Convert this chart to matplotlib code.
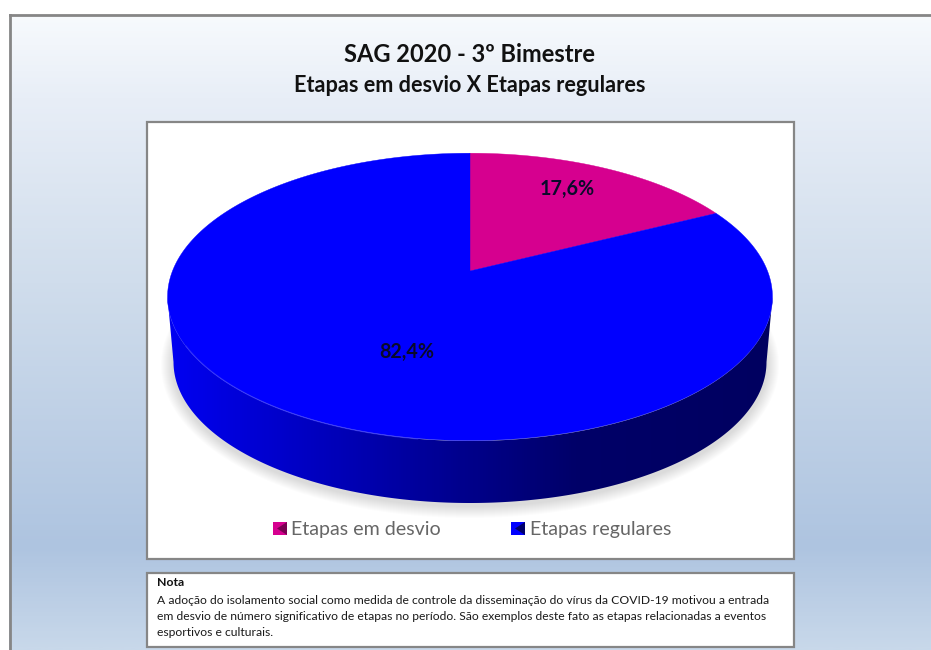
#SAG 2020 - pie chart with fake 3D look
import numpy as np
import matplotlib.pyplot as plt
from matplotlib.colors import LinearSegmentedColormap
from matplotlib.patches import Rectangle, Polygon

plt.rcParams['font.family'] = ['Lato', 'DejaVu Sans']

labels = ['Etapas em desvio', 'Etapas regulares']
values = [17.6, 82.4]
value_labels = ['17,6%', '82,4%']
colors = ['#D6008F', '#0000FF']
dark_colors = ['#7A0052', '#00006A']

title = 'SAG 2020 - 3º Bimestre'
subtitle = 'Etapas em desvio X Etapas regulares'
note_title = 'Nota'
note_lines = ['A adoção do isolamento social como medida de controle da disseminação do vírus da COVID-19 motivou a entrada',
              'em desvio de número significativo de etapas no período. São exemplos deste fato as etapas relacionadas a eventos',
              'esportivos e culturais.']

fig = plt.figure(figsize=(9.31, 6.5), dpi=100)
ax = fig.add_axes([0, 0, 1, 1])
ax.set_xlim(0, 931)
ax.set_ylim(650, 0)
ax.axis('off')

# outer panel with the vertical gradient
bg = LinearSegmentedColormap.from_list('bg', [(0, '#F7FAFD'), (0.13, '#E8EEF7'), (0.42, '#D0DDEC'),
                                              (0.84, '#AEC4E0'), (1, '#C8D8EA')])
ax.imshow(np.linspace(0, 1, 300).reshape(-1, 1), cmap=bg, extent=(9, 935, 650, 14), aspect='auto', zorder=1)
ax.plot([9.5, 9.5], [650, 14.5], color='#868686', lw=2, zorder=2)
ax.plot([9.5, 931], [14.5, 14.5], color='#868686', lw=2, zorder=2)
ax.set_xlim(0, 931)
ax.set_ylim(650, 0)

# white boxes
ax.add_patch(Rectangle((146.5, 121.5), 647.5, 437.5, fc='white', ec='#868686', lw=1.6, zorder=3))
ax.add_patch(Rectangle((146.5, 572.5), 647.5, 74.5, fc='white', ec='#868686', lw=1.6, zorder=3))

# pie in perspective: a circle seen at an angle, the centre is not the middle of the ellipse
cx, cy = 470.0, 271.0
k = 0.18
a = 297.5
b = 139.0

def project(theta):
    # theta clockwise from the top, degrees
    t = np.radians(theta)
    u, v = np.sin(t), np.cos(t)
    w = 1 + k * v
    return cx + a * u / w, cy - b * v / w

# ellipses of rim and of the base, for the side and the shadow
ex, ey, eb = 470.0, 297.0, 144.0
tt = np.linspace(0, 2 * np.pi, 400)
low = np.linspace(0, np.pi, 300)

# soft shadow under the base
for i in range(12):
    grow = 12 - i
    ax.fill(ex + (297 + grow) * np.cos(tt), 362 + 3 + (141 + grow) * np.sin(tt), color='#000000', alpha=0.012, lw=0, zorder=4)

# side of the pie
side_x = np.concatenate([ex + 302.5 * np.cos(low), ex + 296.5 * np.cos(low[::-1])])
side_y = np.concatenate([ey + eb * np.sin(low), 362 + 141 * np.sin(low[::-1])])
side = Polygon(np.column_stack([side_x, side_y]), closed=True, fc='none', ec='none', zorder=5)
ax.add_patch(side)
side_cmap = LinearSegmentedColormap.from_list('side', [(0, '#0000F2'), (0.12, '#0000D8'), (0.3, '#0000B4'),
                                                       (0.5, '#00008A'), (0.68, '#000068'), (1, '#000060')])
im = ax.imshow(np.linspace(0, 1, 300).reshape(1, -1), cmap=side_cmap, extent=(167, 773, 510, 290), aspect='auto', zorder=5)
im.set_clip_path(side)
ax.set_xlim(0, 931)
ax.set_ylim(650, 0)

# top slices from the values
start = 0.0
for i in range(len(values)):
    end = start + values[i] / sum(values) * 360
    th = np.linspace(start, end, 300)
    px, py = project(th)
    ax.fill(np.r_[cx, px], np.r_[cy, py], color=colors[i], lw=0.3, zorder=6)
    start = end

# light line on the front left edge of the top
edge = np.linspace(np.radians(100), np.radians(160), 100)
ax.plot(ex + 302 * np.cos(edge), ey + 144 * np.sin(edge), color='#3A3AFF', lw=1, alpha=0.5, zorder=6)

label_pos = [(567, 189), (407, 352)]
for i in range(len(values)):
    ax.text(label_pos[i][0], label_pos[i][1], value_labels[i], fontsize=14.2, fontweight='bold', color='#0A0A2A',
            ha='center', va='center', zorder=7)

ax.text(470, 54, title, fontsize=17, fontweight='bold', color='#111111', ha='center', va='center', zorder=7)
ax.text(470, 85, subtitle, fontsize=15.6, fontweight='bold', color='#111111', ha='center', va='center', zorder=7)

# legend
legend_x = [273, 511]
text_x = [291, 530]
for i in range(len(labels)):
    x0 = legend_x[i]
    ax.add_patch(Rectangle((x0, 522), 14, 13, fc=colors[i], ec='none', zorder=7))
    ax.add_patch(Polygon([(x0 + 4, 528.5), (x0 + 14, 522), (x0 + 14, 535)], closed=True, fc=dark_colors[i], ec='none', zorder=7))
    ax.text(text_x[i], 529, labels[i], fontsize=14.1, color='#666666', ha='left', va='center', zorder=7)

# note
ax.text(157, 583, note_title, fontsize=8.8, fontweight='bold', color='#111111', ha='left', va='center', zorder=7)
note_y = [600, 617, 633]
for i in range(len(note_lines)):
    ax.text(157, note_y[i], note_lines[i], fontsize=8.78, color='#1A1A1A', ha='left', va='center', zorder=7)

fig.savefig('out.png', dpi=100)
